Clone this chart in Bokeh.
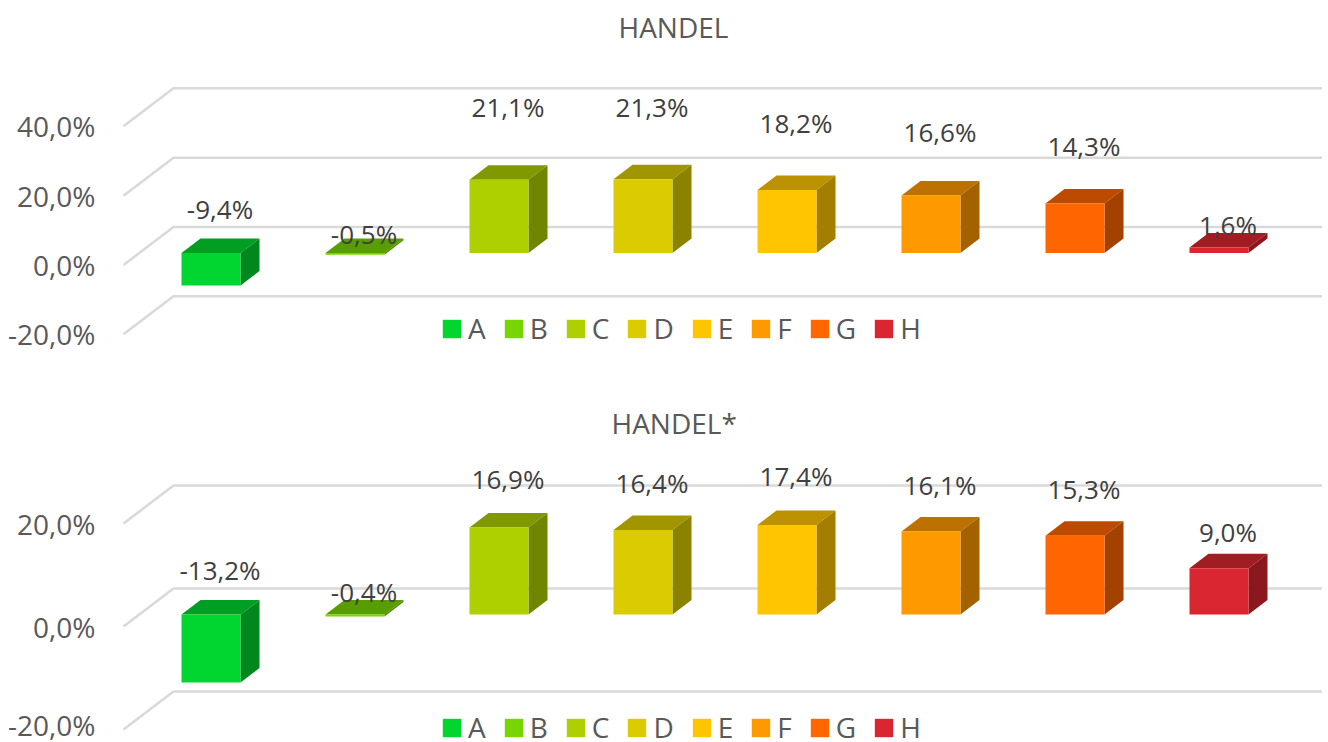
from bokeh.embed import file_html
from bokeh.resources import INLINE
from bokeh.layouts import column
from bokeh.plotting import figure
from bokeh.models import FixedTicker, Legend, LegendItem, Title, ColumnDataSource
from bokeh.core.properties import value

categories = ["A", "B", "C", "D", "E", "F", "G", "H"]
colors = ["#00D62F", "#78D600", "#AFD000", "#DACC00", "#FFC600", "#FF9900", "#FF6600", "#DA2630"]

titles = ["HANDEL", "HANDEL*"]
values_1 = [-9.4, -0.5, 21.1, 21.3, 18.2, 16.6, 14.3, 1.6]
labels_1 = ["-9,4%", "-0,5%", "21,1%", "21,3%", "18,2%", "16,6%", "14,3%", "1,6%"]
values_2 = [-13.2, -0.4, 16.9, 16.4, 17.4, 16.1, 15.3, 9.0]
labels_2 = ["-13,2%", "-0,4%", "16,9%", "16,4%", "17,4%", "16,1%", "15,3%", "9,0%"]
ticks_1 = [-20, 0, 20, 40]
tick_labels_1 = ["-20,0%", "0,0%", "20,0%", "40,0%"]
ticks_2 = [-20, 0, 20]
tick_labels_2 = ["-20,0%", "0,0%", "20,0%"]

# layout only: how far each data label sits above the bar's base, in pixels
label_lift_1 = [44, 19, 146, 146.5, 130, 121, 107, 28]
label_lift_2 = [45, 23, 136, 132, 139, 130, 126, 83]

FONT = "Open Sans"
LEFT_IMG = 102
FIG_MARGIN = 5
FRAME_W = 1221
PX_PER_CAT = 144.0
CENTER0 = 211.5


def shade(c, f):
    r, g, b = int(c[1:3], 16), int(c[3:5], 16), int(c[5:7], 16)
    return "#%02x%02x%02x" % (int(r * f), int(g * f), int(b * f))


def chart(title, title_x, vals, labs, lift, ticks, tick_labs, px_per_pct, zero_img,
          top_img, bottom_img, legend_y, grid_vals):
    frame_h = bottom_img - top_img
    y0 = (zero_img - bottom_img) / px_per_pct
    y1 = (zero_img - top_img) / px_per_pct
    x0 = (LEFT_IMG - CENTER0) / PX_PER_CAT
    x1 = x0 + FRAME_W / PX_PER_CAT
    p = figure(frame_width=FRAME_W, frame_height=frame_h,
               x_range=(x0, x1), y_range=(y0, y1), output_backend="svg",
               toolbar_location=None, min_border_left=0, min_border_right=0,
               min_border_top=0, min_border_bottom=0, outline_line_color=None,
               background_fill_color="white", border_fill_color="white",
               margin=(0, 0, 0, FIG_MARGIN))
    p.title = None
    t = Title(text=title, align="left", offset=title_x - LEFT_IMG, text_font=FONT,
              text_font_size="28px", text_font_style="normal", text_color="#595959")
    p.add_layout(t, "above")
    p.xaxis.visible = False
    p.grid.visible = False
    ax = p.yaxis[0]
    ax.ticker = FixedTicker(ticks=ticks)
    ax.major_label_overrides = dict(zip(ticks, tick_labs))
    ax.axis_line_color = None
    ax.major_tick_line_color = None
    ax.minor_tick_line_color = None
    ax.major_tick_out = 0
    ax.major_tick_in = 0
    ax.major_label_standoff = 6
    ax.major_label_text_font = FONT
    ax.major_label_text_font_size = "28px"
    ax.major_label_text_color = "#595959"

    # perspective offsets, in data units
    grid_dx, grid_dy = 50 / PX_PER_CAT, 38 / px_per_pct
    base = 12 / px_per_pct
    depth_x, depth_y = 19 / PX_PER_CAT, 14.5 / px_per_pct
    half = 29.5 / PX_PER_CAT
    gx0 = (124 - CENTER0) / PX_PER_CAT
    gx1 = (1325 - CENTER0) / PX_PER_CAT
    p.multi_line(xs=[[gx0, gx0 + grid_dx, gx1] for _ in grid_vals],
                 ys=[[g, g + grid_dy, g + grid_dy] for g in grid_vals],
                 line_color="#D9D9D9", line_width=2.5)

    items = []
    for i, (cat, col, v) in enumerate(zip(categories, colors, vals)):
        lo, hi = base + min(v, 0), base + max(v, 0)
        l, r = i - half, i + half
        p.patch([l, r, r + depth_x, l + depth_x], [hi, hi, hi + depth_y, hi + depth_y],
                fill_color=shade(col, 0.74), line_color=None)
        p.patch([r, r + depth_x, r + depth_x, r], [lo, lo + depth_y, hi + depth_y, hi],
                fill_color=shade(col, 0.64), line_color=None)
        front = p.quad(left=[l], right=[r], bottom=[lo], top=[hi], fill_color=col, line_color=None)
        items.append(LegendItem(label=cat, renderers=[front]))

    src = ColumnDataSource(dict(
        x=[i + 9 / PX_PER_CAT for i in range(len(vals))],
        y=[base + d / px_per_pct for d in lift],
        text=labs))
    p.text(x="x", y="y", text="text", source=src, text_align="center", text_baseline="middle",
           text_font=value(FONT), text_font_size="26px", text_color="#404040")

    leg = Legend(items=items, orientation="horizontal", location=(443 - 2 - LEFT_IMG, legend_y),
                 glyph_width=23, glyph_height=23, label_standoff=5, spacing=16, padding=0,
                 margin=0, border_line_color=None, background_fill_alpha=0,
                 label_text_font=FONT, label_text_font_size="28px", label_text_color="#595959",
                 label_height=18, label_width=0)
    p.add_layout(leg, "center")
    return p


p1 = chart(titles[0], 619, values_1, labels_1, label_lift_1, ticks_1, tick_labels_1, 3.467, 263.5,
           49, 395, 49, ticks_1)
p2 = chart(titles[1], 612, values_2, labels_2, label_lift_2, ticks_2, tick_labels_2, 5.15, 625,
           445, 742, -3, ticks_2)

layout = column(p1, p2, spacing=0)
open("out.html", "w").write(file_html(layout, INLINE))
